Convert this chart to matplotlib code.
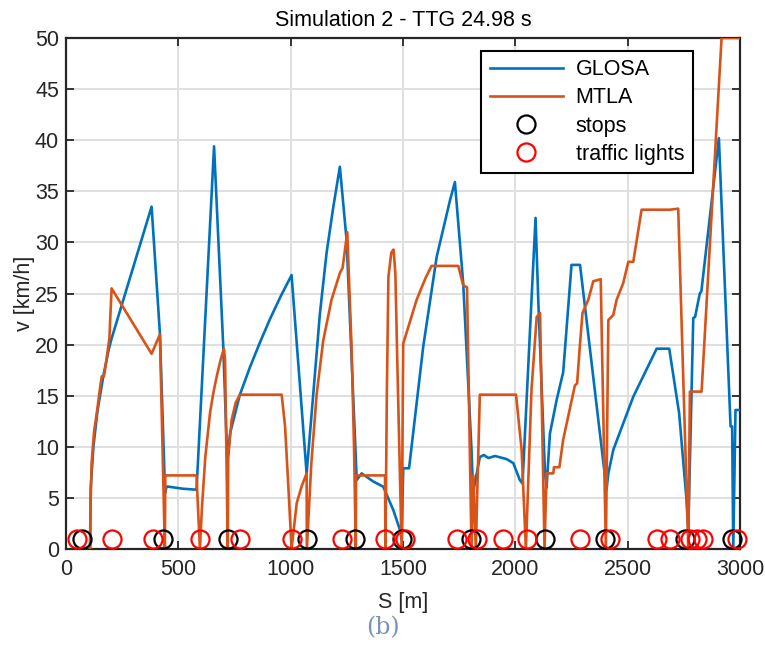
"""Speed profile along the route: GLOSA vs MTLA, simulation 2."""

import matplotlib.pyplot as plt

# GLOSA speed profile (distance m, speed km/h)
GLOSA_S = [107, 110, 122, 140, 166, 190, 203, 381, 418, 441, 443, 447, 455, 520, 581,
           659, 700, 718, 730, 745, 774, 819, 863, 908, 955, 1004, 1071, 1100, 1130,
           1160, 1190, 1219, 1249, 1294, 1316, 1368, 1412, 1457, 1486, 1494, 1501,
           1527, 1590, 1650, 1709, 1731, 1768, 1805, 1812, 1842, 1860, 1880, 1909,
           1961, 1991, 2020, 2032, 2072, 2090, 2102, 2132, 2139, 2154, 2184, 2213,
           2250, 2288, 2406, 2414, 2436, 2525, 2629, 2685, 2729, 2762, 2770, 2792,
           2800, 2821, 2828, 2906, 2958, 2965, 2970, 2980, 3000]
GLOSA_V = [0, 6, 10, 13.5, 16.9, 19.5, 20.6, 33.5, 21.1, 5.5, 5.6, 6.1, 6.1, 5.9, 5.8,
           39.4, 19.8, 8.5, 11.3, 12.6, 15.1, 17.8, 20.2, 22.5, 24.7, 26.8, 7.4, 15, 23,
           29, 33.5, 37.4, 30.2, 6.75, 7.4, 6.6, 6.1, 3.8, 1.9, 1.0, 7.9,
           7.9, 19.8, 28.6, 34.1, 35.9, 26.0, 9.7, 5.5, 9.0, 9.2, 8.9, 9.1,
           8.8, 8.4, 6.75, 6.4, 24.4, 32.4, 24.4, 7.4, 6.0, 11.3, 14.6, 17.3,
           27.8, 27.8, 5.8, 7.4, 9.7, 14.9, 19.6, 19.6, 13.3, 4.8, 1.9, 22.6,
           22.7, 25.0, 25.2, 40.2, 12.0, 12.0, 0, 13.6, 13.6]

# MTLA speed profile
MTLA_S = [107, 109, 114, 125, 137, 150, 159, 169, 180, 193, 203, 381, 418, 440, 442,
          581, 596, 605, 620, 641, 656, 671, 688, 703, 708, 720, 722, 737, 755, 774,
          960, 975, 990, 1004, 1027, 1050, 1071, 1072, 1092, 1116, 1145, 1182, 1219,
          1231, 1252, 1262, 1271, 1282, 1290, 1291, 1420, 1422, 1428, 1435, 1448,
          1458, 1466, 1475, 1494, 1501, 1561, 1600, 1627, 1746, 1768, 1785, 1805,
          1813, 1824, 1842, 2003, 2028, 2047, 2072, 2095, 2110, 2130, 2139, 2169,
          2172, 2196, 2213, 2265, 2275, 2288, 2299, 2325, 2347, 2380, 2403, 2414,
          2436, 2451, 2480, 2503, 2525, 2562, 2688, 2725, 2770, 2777, 2829, 2918, 3000]
MTLA_V = [0, 4, 8.4, 11.5, 13.3, 15.5, 16.9, 16.9, 18.5, 20.6, 25.5, 19.1, 21.0, 0, 7.2,
          7.2, 0, 4, 9, 13.3, 15.3, 16.9, 18.5, 19.6, 18.5, 0, 9.0, 12.6, 14.3, 15.1,
          15.1, 12, 6, 0, 4.5, 6.2, 7.4, 0, 8.4, 15.2, 20.4, 24.4, 27.0,
          27.5, 31.0, 25, 19.8, 10, 0, 7.2, 7.2, 0, 15, 26.6, 29.0,
          29.3, 27, 18, 0, 20.1, 24.4, 26.5, 27.7, 27.7, 25.8, 25.6, 0,
          7.2, 0, 15.1, 15.1, 9.7, 0, 15.6, 22.7, 23.1, 0, 7.4, 7.4,
          8.0, 8.0, 10.7, 16.0, 16.2, 20.1, 23.1, 24.4, 26.2, 26.4, 0, 22.4,
          22.9, 24.4, 26.0, 28.1, 28.1, 33.2, 33.2, 33.3, 0, 15.4, 15.4, 50, 50]

# Positions of stops and traffic lights along the route
STOPS_S = [70, 433, 721, 1071, 1286, 1494, 1803, 2132, 2399, 2757, 2963]
LIGHTS_S = [47, 203, 389, 596, 774, 1004, 1227, 1420, 1507, 1739, 1828, 1946, 2050,
            2288, 2421, 2629, 2688, 2777, 2807, 2836, 2985]
MARKER_V = 1

XTICKS = [0, 500, 1000, 1500, 2000, 2500, 3000]
YTICKS = [0, 5, 10, 15, 20, 25, 30, 35, 40, 45, 50]

plt.rcParams["font.family"] = ["Liberation Sans", "DejaVu Sans"]
DARK = "#262626"
FS = 15.5

fig = plt.figure(figsize=(7.65, 6.55), dpi=100)
ax = fig.add_axes([66 / 765, 106 / 655, 674 / 765, 511 / 655])

ax.plot(GLOSA_S, GLOSA_V, color="#0072BD", lw=1.9, label="GLOSA", zorder=3)
ax.plot(MTLA_S, MTLA_V, color="#D95319", lw=1.9, label="MTLA", zorder=3)
ax.plot(STOPS_S, [MARKER_V] * len(STOPS_S), "o", ls="none", mfc="none", mec="black",
        ms=13, mew=1.6, label="stops", zorder=4, clip_on=False)
ax.plot(LIGHTS_S, [MARKER_V] * len(LIGHTS_S), "o", ls="none", mfc="none", mec="red",
        ms=13, mew=1.6, label="traffic lights", zorder=5, clip_on=False)

ax.set_xlim(0, 3000)
ax.set_ylim(0, 50)
ax.set_xticks(XTICKS)
ax.set_yticks(YTICKS)
ax.grid(True, color="#dfdfdf", lw=1.4)
ax.set_axisbelow(True)
ax.tick_params(direction="in", top=True, right=True, length=6, width=1.3,
               colors=DARK, labelsize=FS)
ax.tick_params(axis="x", pad=7)
ax.tick_params(axis="y", pad=5)
for sp in ax.spines.values():
    sp.set_linewidth(1.6)
    sp.set_color(DARK)

ax.set_title("Simulation 2 - TTG 24.98 s", fontsize=FS, color="black", pad=9)
ax.set_xlabel("S [m]", fontsize=FS, color=DARK, labelpad=9)
ax.set_ylabel("v [km/h]", fontsize=FS, color=DARK)
ax.yaxis.set_label_coords(-0.046, 0.5)

leg = ax.legend(loc="upper right", bbox_to_anchor=(0.930, 0.975), fontsize=FS,
                frameon=True, fancybox=False, framealpha=1, edgecolor="black",
                handlelength=3.4, labelspacing=0.33, borderaxespad=0,
                handletextpad=0.6, borderpad=0.4)
leg.get_frame().set_linewidth(1.5)

fig.text(0.5, 27 / 655, "(b)", ha="center", va="center", fontsize=17,
         family="DejaVu Serif", color="#7893b5")

fig.savefig("out.png", dpi=100)
